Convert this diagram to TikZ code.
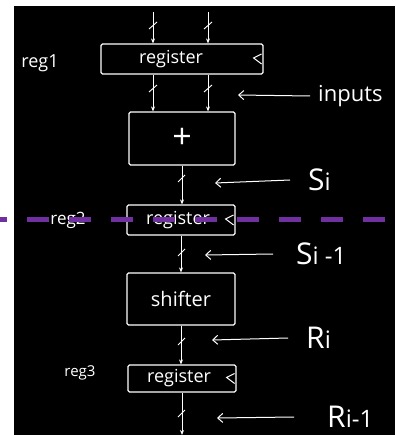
\documentclass[tikz,border=0pt]{standalone}
\usepackage{fontspec}
\setmainfont{Open Sans}
\usetikzlibrary{arrows.meta}
\definecolor{dashpurple}{RGB}{112,48,160}
\tikzset{
  wire/.style={draw=white, line width=1pt, -{Stealth[length=5pt,width=4pt]}},
  box/.style={draw=white, line width=1.2pt, rounded corners=1.5pt, inner sep=0pt, text=white},
  lbl/.style={text=white, inner sep=0pt},
  ptr/.style={draw=white, line width=1pt, -{Straight Barb[length=5pt,width=9pt]}},
  tick/.style={draw=white, line width=0.9pt},
  clk/.style={draw=white, line width=1pt}
}
\begin{document}
\begin{tikzpicture}[x=1pt,y=-1pt]
\useasboundingbox (0,0) rectangle (395,435);
\fill[white] (0,0) rectangle (395,435);
\fill[black] (14,6) rectangle (395,435);

% boxes
\node[box, minimum width=162pt, minimum height=30pt, font=\fontsize{18}{18}\selectfont] (reg1) at (182,59) {\hspace*{-22pt}register};
\node[box, minimum width=106pt, minimum height=53pt, font=\fontsize{34}{34}\selectfont] (add) at (182,138.5) {+};
\node[box, minimum width=108pt, minimum height=30pt, font=\fontsize{18}{18}\selectfont] (reg2) at (181,220) {\hspace*{-6pt}register};
\node[box, minimum width=108pt, minimum height=52pt, font=\fontsize{20}{20}\selectfont] (shf) at (181,299) {shifter};
\node[box, minimum width=108pt, minimum height=27pt, font=\fontsize{18}{18}\selectfont] (reg3) at (182,378.5) {\hspace*{-6pt}register};

% clock marks
\draw[clk] ([xshift=-2pt,yshift=-5pt]reg1.east) -- ([xshift=-10pt,yshift=1pt]reg1.east) -- ([xshift=-2pt,yshift=5pt]reg1.east);
\draw[clk] ([xshift=-2pt,yshift=-5pt]reg2.east) -- ([xshift=-10pt,yshift=1pt]reg2.east) -- ([xshift=-2pt,yshift=5pt]reg2.east);
\draw[clk] ([xshift=-2pt,yshift=-5pt]reg3.east) -- ([xshift=-10pt,yshift=1pt]reg3.east) -- ([xshift=-2pt,yshift=5pt]reg3.east);

% coordinates
\coordinate (inA) at (153,12);
\coordinate (inB) at (208,12);
\coordinate (out) at (182,435);

% wires
\draw[wire] (inA) -- (inA |- reg1.north);
\draw[wire] (inB) -- (inB |- reg1.north);
\draw[wire] (inA |- reg1.south) -- (inA |- add.north);
\draw[wire] (inB |- reg1.south) -- (inB |- add.north);
\draw[wire] (add.south) -- (reg2.north -| add.south);
\draw[wire] (reg2.south) -- (shf.north);
\draw[wire] (shf.south) -- (reg3.north -| shf.south);
\draw[wire] (reg3.south) -- (out);

% bus ticks
\draw[tick] (149,29) -- (157,22);
\draw[tick] (204,29) -- (212,22);
\draw[tick] (149,92) -- (157,85);
\draw[tick] (204,92) -- (212,85);
\draw[tick] (178,182) -- (185,175);
\draw[tick] (178,256) -- (185,249);
\draw[tick] (178,345) -- (185,338);
\draw[tick] (178,417) -- (185,410);

% side labels
\node[lbl, font=\fontsize{18}{18}\selectfont] (l1) at (40,63) {reg1};
\node[lbl, font=\fontsize{17}{17}\selectfont] (l2) at (68,220) {reg2};
\node[lbl, font=\fontsize{15}{15}\selectfont] (l3) at (80,373) {reg3};

% signal labels
\node[lbl, font=\fontsize{22}{22}\selectfont, anchor=west] (tin) at (318,96) {inputs};
\node[lbl, font=\fontsize{30}{30}\selectfont, anchor=west] (tsi) at (308,180) {S{\fontsize{24}{24}\selectfont i}};
\node[lbl, font=\fontsize{30}{30}\selectfont, anchor=west] (tsi1) at (296,254) {S{\fontsize{24}{24}\selectfont i -1}};
\node[lbl, font=\fontsize{30}{30}\selectfont, anchor=west] (tri) at (306,338) {R{\fontsize{24}{24}\selectfont i}};
\node[lbl, font=\fontsize{30}{30}\selectfont, anchor=west] (tri1) at (327,417) {R{\fontsize{24}{24}\selectfont i-1}};

\coordinate (pin) at (238,95);
\coordinate (psi) at (215,183);
\coordinate (psi1) at (205,255);
\coordinate (pri) at (212,340);
\coordinate (pri1) at (217,418);
\draw[ptr] ([xshift=-8pt]tin.west) -- (pin);
\draw[ptr] ([xshift=-18pt]tsi.west) -- (psi);
\draw[ptr] ([xshift=-23pt]tsi1.west) -- (psi1);
\draw[ptr] ([xshift=-18pt]tri.west) -- (pri);
\draw[ptr] ([xshift=-33pt]tri1.west) -- (pri1);

% purple dashed line
\coordinate (dl) at (0,219);
\coordinate (dr) at (395,219);
\draw[dashpurple, line width=5pt, dash pattern=on 22pt off 20pt, dash phase=15pt] (dl) -- (dr);
\end{tikzpicture}
\end{document}
